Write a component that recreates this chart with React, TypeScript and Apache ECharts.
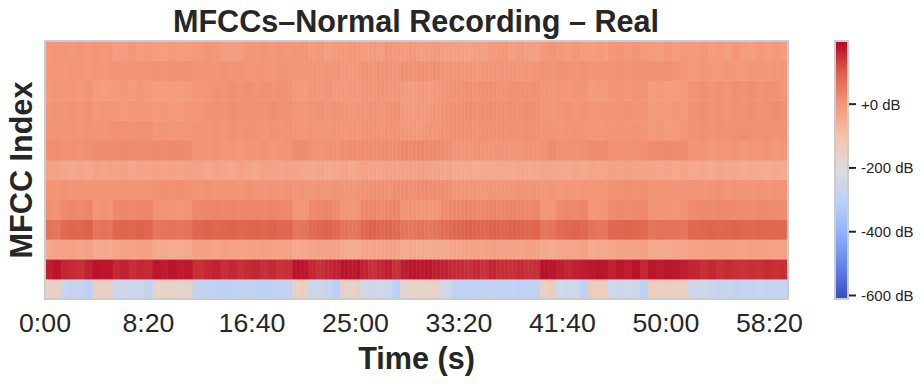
import React, { useEffect, useRef } from "react";
import * as echarts from "echarts";

const segmentColumns = [4, 8, 5, 10, 10, 25, 4, 8, 5, 10, 10, 3, 22, 4, 8, 5, 10, 10, 25];
const totalSeconds = 3590;
const timeTicks = [0, 500, 1000, 1500, 2000, 2500, 3000, 3500];
const timeLabels = ["0:00", "8:20", "16:40", "25:00", "33:20", "41:40", "50:00", "58:20"];
const dbTicks = [-600, -400, -200, 0];
const dbLabels = ["-600 dB", "-400 dB", "-200 dB", "+0 dB"];

const mfcc0 = [[-178,-172],[-285,-295,-290,-325],[-170,-175,-168],[-275,-270,-280,-272,-300],[-185,-180,-178,-188,-182],[-300,-310,-305,-315,-305,-312,-300,-308,-315,-305,-310,-300],[-172,-165],[-285,-280,-290,-325],[-172,-178,-165],[-265,-275,-262,-280,-322],[-188,-185,-182,-180,-175],[-265,-275],[-310,-305,-315,-308,-300,-312,-305,-315,-310,-305],[-172,-165],[-265,-270,-262,-310],[-160,-165,-155],[-265,-270,-262,-268,-320],[-162,-170,-160,-165,-172],[-270,-265,-280,-290,-285,-300,-290,-295,-285,-298,-288,-292]];
const mfcc1 = [[168,180],[160,155,150,165],[182,178,180],[158,165,150,160,155],[178,170,182,172,176],[150,158,165,152,160,148,155,162,150,158,148,152],[182,178],[160,150,158,165],[180,176,184],[165,150,160,170,148],[172,180,176,178,170],[165,158],[155,150,158,148,162,152,150,156,148,152],[184,180],[170,162,168,172],[175,182,178],[165,178,170,182,160],[178,172,180,176,170],[162,150,158,148,155,150,146,152,148,155,150,152]];
const mfcc2 = [[-42,-38],[-32,-28,-35,-30],[-48,-45,-50],[-36,-32,-34,-30,-28],[-48,-44,-50,-52,-46],[-30,-28,-34,-26,-30,-32,-28,-30,-26,-30,-28,-30],[-46,-42],[-34,-30,-28,-32],[-52,-50,-48],[-38,-34,-36,-32,-30],[-50,-46,-48,-52,-44],[-48,-40],[-34,-30,-28,-32,-26,-30,-28,-32,-26,-30],[-44,-50],[-38,-34,-36,-32],[-50,-46,-44],[-42,-36,-38,-34,-30],[-46,-44,-48,-42,-40],[-32,-28,-30,-26,-30,-28,-32,-26,-30,-28,-32,-30]];
const mfcc3 = [[62,58],[78,86,82,92],[58,62,56],[84,90,86,92,82],[56,60,62,58,60],[82,90,85,88,92,84,88,90,86,92,84,86],[58,62],[78,86,92,80],[62,56,60],[84,90,82,88,78],[60,56,62,58,60],[72,80],[86,92,88,84,90,86,92,88,84,90],[58,62],[78,84,90,80],[62,56,60],[84,80,88,82,78],[58,64,60,62,56],[80,84,88,82,86,90,84,80,86,82,84,80]];
const mfcc4 = [[2,-2],[14,20,16,22],[-4,-2,-6],[16,22,18,20,24],[-2,-6,-4,-8,-2],[18,22,26,20,24,18,22,24,20,26,22,18],[-4,-6],[16,22,26,14],[-6,-8,-2],[18,22,14,20,24],[-2,0,-4,-6,-8],[12,18],[20,24,18,22,26,20,24,22,18,24],[-6,-4],[16,22,18,24],[-8,-4,-6],[10,16,12,14,18],[-2,-6,-4,-8,-2],[12,16,14,18,16,12,14,10,16,14,12,10]];
const mfcc5 = [[-6,-10],[-4,-8,-6,-10],[-10,-6,-8],[-8,-4,-10,-6,-5],[-2,3,0,4,-2],[-6,-2,-8,-4,-6,-10,-2,-6,-8,-4,-6,-2],[-8,-6],[-10,-6,-8,-4],[-8,-10,-6],[-2,0,3,-2,4],[6,2,4,8,5],[4,0],[-10,-6,-8,-12,-6,-10,-8,-4,-8,-6],[-12,-8],[-14,-10,-12,-8],[-12,-10,-14],[-2,2,4,0,3],[-6,-10,-4,-8,-6],[-4,-8,-6,-2,-8,-4,-6,-8,-4,-10,-6,-4]];
const mfcc6 = [[-38,-42],[-48,-55,-44,-52],[-40,-44,-38],[-46,-40,-50,-42,-44],[-38,-42,-36,-44,-40],[-42,-50,-40,-46,-52,-38,-44,-48,-36,-42,-46,-38],[-42,-48],[-54,-46,-52,-48],[-42,-50,-44],[-36,-42,-46,-38,-40],[-36,-40,-34,-38,-42],[-48,-40],[-56,-50,-60,-52,-58,-50,-56,-48,-54,-50],[-44,-48],[-50,-54,-46,-52],[-44,-50,-46],[-38,-44,-40,-46,-42],[-44,-50,-46,-52,-42],[-54,-50,-60,-46,-56,-50,-62,-52,-58,-64,-54,-60]];
const mfcc7 = [[4,6],[-2,2,-4,3],[8,10,6],[10,12,8,10,6],[12,10,14,11,9],[-6,-10,-4,-12,-8,-14,-6,-10,-4,-12,-6,-4],[8,10],[-2,-4,0,-2],[6,8,10],[8,10,7,9,6],[15,13,16,12,14],[5,3],[-8,-10,-4,-8,-12,-6,-10,-8,-4,-6],[-3,8],[0,2,-2,1],[10,8,11],[0,2,-2,1,3],[10,8,12,9,7],[-10,-6,-14,-8,-12,-6,-16,-8,-12,-6,-14,-10]];
const mfcc8 = [[-8,-6],[-10,-6,-8,-4],[-6,-8,-4],[-2,0,-4,-1,2],[-12,-10,-14,-8,-12],[-4,-6,-2,-8,-3,-6,-2,-5,-7,-3,-4,-2],[-10,-8],[-6,-8,-10,-6],[-12,-10,-14],[-4,-2,-6,-3,-5],[-12,-14,-16,-10,-8],[-2,2],[0,2,-2,3,1,-1,2,0,3,1],[-4,-6],[-8,-6,-4,-8],[-12,-14,-10],[-8,-6,-10,-4,-8],[-18,-14,-20,-16,-12],[-2,0,-4,2,-2,0,3,-1,-3,1,-2,0]];
const mfcc9 = [[-8,-4],[-6,-2,-8,-3],[-14,-10,-12],[-12,-16,-10,-14,-12],[-18,-14,-16,-20,-12],[-10,-4,2,-2,4,0,-3,2,-1,4,0,2],[-6,-10],[-4,0,-6,-2],[-10,-14,-8],[-6,-2,-8,-4,2],[-16,-20,-14,-18,-12],[-4,0],[2,6,0,4,7,1,5,2,6,3],[-8,-12],[-6,-2,-8,-4],[-12,-8,-10],[-6,-10,-2,-8,-4],[-20,-16,-22,-14,-18],[-2,4,-4,2,-6,3,-3,5,-2,2,6,0]];
const mfcc10 = [[-14,-10],[-12,-8,-16,-6],[-22,-24,-20],[-20,-14,-22,-12,-18],[-24,-26,-22,-28,-20],[-12,-8,-2,-6,0,-4,2,-6,-1,-5,1,-3],[-16,-20],[-10,-14,-8,-18],[-18,-14,-20],[-6,-10,-4,-12,-8],[-18,-22,-16,-20,-14],[-8,-4],[-2,1,-4,3,-1,-5,2,0,-3,1],[-10,-14],[-8,-12,-6,-10],[-22,-18,-20],[-10,-6,-14,-4,-8],[-24,-20,-26,-22,-16],[-4,2,-6,0,-8,3,-2,4,-6,1,-3,-8]];
const mfcc11 = [[-14,-12],[-14,-10,-12,-16],[-12,-14,-10],[-6,-10,-8,-4,-6],[-3,-6,-2,-4,-1],[-8,-6,-10,-4,-8,-6,-12,-10,-8,-12,-6,-10],[-10,-12],[-8,-14,-12,-10],[-16,-18,-14],[-4,-6,-2,-4,-8],[0,-2,2,-4,-1],[-6,-8],[-10,-12,-14,-10,-12,-8,-10,-14,-12,-8],[-4,-8],[-2,-4,-6,-2],[-8,-10,-6],[-4,-2,-6,0,-2],[-2,-4,0,-6,-10],[-18,-14,-16,-20,-12,-16,-18,-14,-12,-16,-14,-10]];
const mfcc12 = [[-14,-10],[-12,-18,-8,-16],[-10,-14,-8],[-28,-22,-14,-26,-18],[-24,-30,-20,-26,-22],[-16,-10,-14,-26,-30,-24,-12,-18,-10,-16,-8,-14],[-12,-10],[-20,-14,-24,-18],[-16,-12,-14],[-24,-18,-28,-12,-16],[-22,-14,-26,-20,-16],[-28,-24],[-30,-34,-26,-32,-20,-14,-28,-18,-26,-30],[-14,-10],[-18,-24,-14,-28],[-26,-20,-30],[-14,-8,-18,-10,-20],[-22,-28,-14,-24,-18],[-20,-12,-24,-16,-28,-10,-22,-30,-14,-26,-18,-24]];
const mfccRows = [mfcc0, mfcc1, mfcc2, mfcc3, mfcc4, mfcc5, mfcc6, mfcc7, mfcc8, mfcc9, mfcc10, mfcc11, mfcc12];
// Correction to the first reading of each row, from comparing its colour with the reference.
const rowCorrectionDb = [18, 0, 3, 0, 6, 9, 12, 9, 9, 9, 9, 9, 9];

const coolwarm = ["#3b4cc0", "#6282ea", "#8db0fe", "#b9d0f9", "#dddcdc", "#f5c4ac", "#f4987a", "#dd604a", "#b40426"];
const dbMin = -611;
const dbMax = 198;
const textColor = "#262626";
const fontFamily = '"Liberation Sans", Arial, sans-serif';

function buildCells() {
  const cells: number[][] = [];
  mfccRows.forEach((row, y) => {
    let col = 0;
    row.forEach((values, s) => {
      const len = segmentColumns[s];
      for (let k = 0; k < len; k++) {
        cells.push([col, y, values[Math.floor((k * values.length) / len)] + rowCorrectionDb[y]]);
        col++;
      }
    });
  });
  return cells;
}

export default function App() {
  const ref = useRef<HTMLDivElement>(null);
  useEffect(() => {
    const chart = echarts.init(ref.current!, null, { renderer: "svg" });
    const totalColumns = segmentColumns.reduce((a, b) => a + b, 0);
    const columns = Array.from({ length: totalColumns }, (_, i) => String(i));
    chart.setOption({
      animation: false,
      backgroundColor: "#ffffff",
      textStyle: { fontFamily },
      title: {
        text: "MFCCs\u2013Normal Recording \u2013 Real",
        left: 411,
        top: 0,
        textAlign: "center",
        textStyle: { fontSize: 30.6, fontWeight: "bold", color: textColor, fontFamily },
      },
      grid: [
        { left: 45, top: 41, width: 743, height: 258, show: true, z: 5, outerBoundsMode: "none", backgroundColor: "transparent", borderColor: "#cccccc", borderWidth: 2 },
        { left: 835, top: 41, width: 13, height: 258, show: true, z: 5, outerBoundsMode: "none", backgroundColor: "transparent", borderColor: "#cccccc", borderWidth: 2 },
      ],
      xAxis: [
        { type: "category", gridIndex: 0, data: columns, show: false },
        {
          type: "value",
          gridIndex: 0,
          position: "bottom",
          min: 0,
          max: totalSeconds,
          axisLine: { show: false },
          axisTick: { show: false },
          splitLine: { show: false },
          axisLabel: {
            customValues: timeTicks,
            formatter: (v: number) => timeLabels[timeTicks.indexOf(v)] ?? "",
            fontSize: 26.7,
            color: textColor,
            margin: 10,
            fontFamily,
          },
          name: "Time (s)",
          nameLocation: "middle",
          nameGap: 43,
          nameTextStyle: { fontSize: 30.6, fontWeight: "bold", color: textColor, fontFamily },
        },
        { type: "value", gridIndex: 1, show: false, min: 0, max: 1 },
      ],
      yAxis: [
        {
          type: "category",
          gridIndex: 0,
          data: mfccRows.map((_, i) => String(i)),
          axisLine: { show: false },
          axisTick: { show: false },
          axisLabel: { show: false },
          splitLine: { show: false },
          name: "MFCC Index",
          nameLocation: "middle",
          nameGap: 9,
          nameTextStyle: { fontSize: 30.6, fontWeight: "bold", color: textColor, fontFamily },
        },
        {
          type: "value",
          gridIndex: 1,
          position: "right",
          min: dbMin,
          max: dbMax,
          axisLine: { show: false },
          splitLine: { show: false },
          axisTick: { show: false },
          axisLabel: {
            customValues: dbTicks,
            formatter: (v: number) => dbLabels[dbTicks.indexOf(v)] ?? "",
            fontSize: 15,
            color: textColor,
            margin: 13,
            fontFamily,
          },
        },
      ],
      visualMap: {
        type: "continuous",
        seriesIndex: 0,
        min: dbMin,
        max: dbMax,
        show: true,
        calculable: false,
        hoverLink: false,
        left: 835,
        top: 41,
        padding: 0,
        itemWidth: 13,
        itemHeight: 258,
        inRange: { color: coolwarm },
      },
      series: [
        {
          type: "heatmap",
          xAxisIndex: 0,
          yAxisIndex: 0,
          data: buildCells(),
          progressive: 0,
          itemStyle: { borderWidth: 0 },
          emphasis: { disabled: true },
        },
        {
          type: "custom",
          xAxisIndex: 2,
          yAxisIndex: 1,
          silent: true,
          clip: false,
          z: 10,
          data: dbTicks.map((v) => [1, v]),
          encode: { x: 0, y: 1 },
          renderItem: (_params: any, api: any) => {
            const p = api.coord([api.value(0), api.value(1)]);
            return {
              type: "line",
              shape: { x1: p[0] + 1, y1: p[1], x2: p[0] + 8, y2: p[1] },
              style: { stroke: textColor, lineWidth: 2 },
            };
          },
        },
      ],
    });
    return () => chart.dispose();
  }, []);
  return <div ref={ref} style={{ position: "absolute", left: 0, top: 0, width: 924, height: 384 }} />;
}
